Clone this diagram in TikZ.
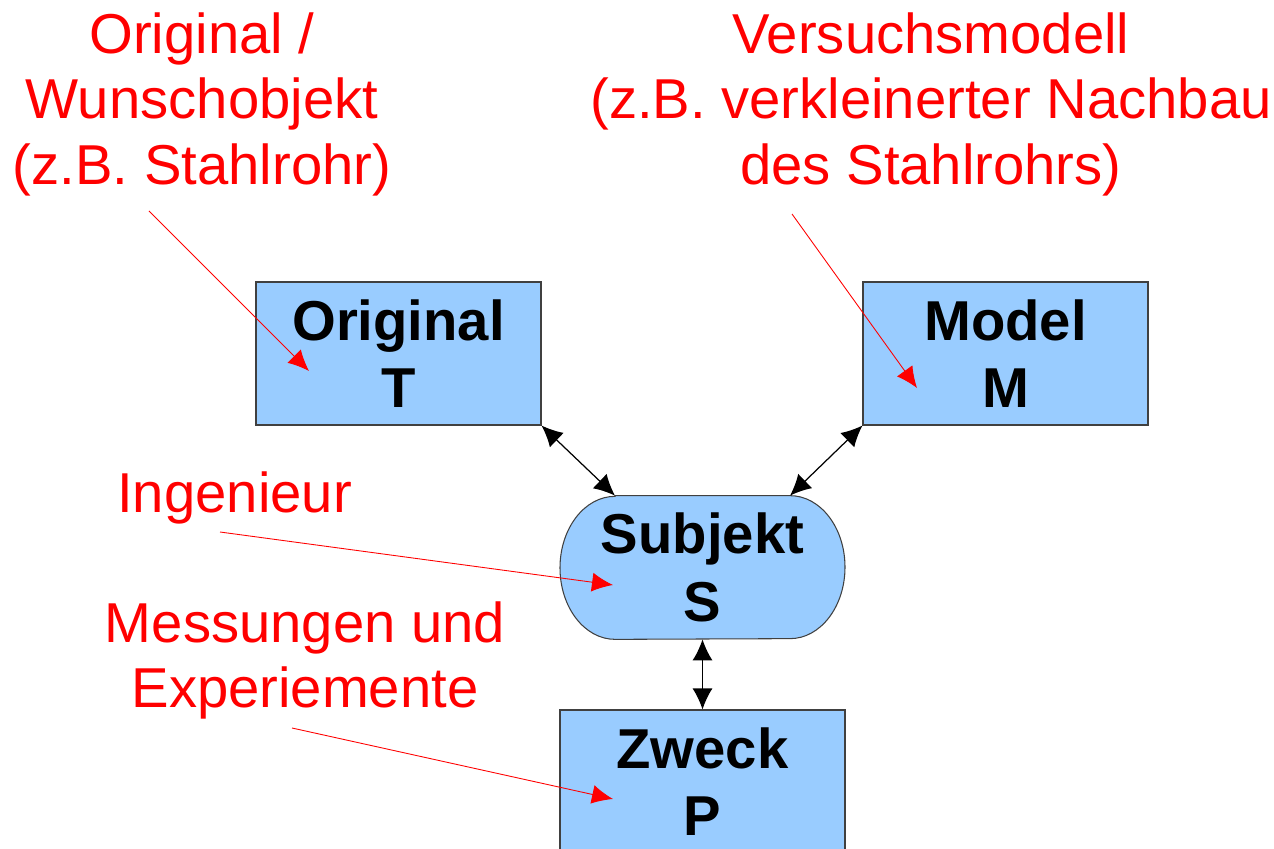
\documentclass[tikz,border=0pt]{standalone}
\usepackage{fontspec}
\setmainfont{Liberation Sans}
\usepackage{tikz}
\usetikzlibrary{positioning, arrows.meta, calc, backgrounds}
\definecolor{boxblue}{RGB}{153,204,255}

\begin{document}
\begin{tikzpicture}[node distance={4.28cm}, font=\fontsize{32}{37.5}\selectfont,
  box/.style = {draw=black!75, fill=boxblue, line width=0.6pt, minimum width=5.7cm, minimum height=2.86cm, align=center, font=\fontsize{32}{38.5}\selectfont\bfseries},
  subj/.style = {minimum width=5.7cm, minimum height=2.86cm, align=center, font=\fontsize{32}{38.5}\selectfont\bfseries},
  note/.style = {text=red, align=center, inner sep=0pt},
  link/.style = {{Latex[length=0.42cm, width=0.4cm]}-{Latex[length=0.42cm, width=0.4cm]}, line width=0.7pt},
  hint/.style = {red, line width=0.5pt, -{Latex[length=0.42cm, width=0.38cm]}}]
\useasboundingbox (0,0) rectangle (25.48,-16.98);

\node[box] (T) at (7.97,-7.07) {Original\\T};
\node[box] (M) at (20.11,-7.07) {Model\\M};
\node[subj] (S) at (14.05,-11.35) {Subjekt\\S};
\node[box] (P) [below of=S] {Zweck\\P};

% stadium outline behind the subject text
\begin{scope}[on background layer]
\draw[draw=black!75, fill=boxblue, line width=0.6pt] ($(S.north)+(-1.75,0)$) -- ($(S.north)+(1.75,0)$)
  arc[start angle=90, end angle=-90, x radius=1.1cm, y radius=1.43cm]
  -- ($(S.south)+(-1.75,0)$)
  arc[start angle=270, end angle=90, x radius=1.1cm, y radius=1.43cm] -- cycle;
\end{scope}

\draw[link] (T.south east) -- ($(S.north)+(-1.75,0)$);
\draw[link] (M.south west) -- ($(S.north)+(1.75,0)$);
\draw[link] (S) -- (P);

\node[note, anchor=north] (orig) at (4.04,-0.24) {Original /\\Wunschobjekt\\(z.B. Stahlrohr)};
\node[note, anchor=north] (vers) at (18.62,-0.24) {Versuchsmodell\\(z.B. verkleinerter Nachbau\\des Stahlrohrs)};
\node[note, anchor=base west] (ing) at (2.34,-10.26) {Ingenieur};
\node[note, anchor=north] (mess) at (6.1,-12.02) {Messungen und\\Experiemente};

\coordinate (o1) at (2.98,-4.22);
\coordinate (o2) at (6.18,-7.42);
\coordinate (v1) at (15.84,-4.28);
\coordinate (v2) at (18.34,-7.76);
\coordinate (i1) at (4.4,-10.64);
\coordinate (i2) at (12.26,-11.7);
\coordinate (m1) at (5.84,-14.56);
\coordinate (m2) at (12.26,-15.98);

\draw[hint] (o1) -- (o2);
\draw[hint] (v1) -- (v2);
\draw[hint] (i1) -- (i2);
\draw[hint] (m1) -- (m2);
\end{tikzpicture}
\end{document}
